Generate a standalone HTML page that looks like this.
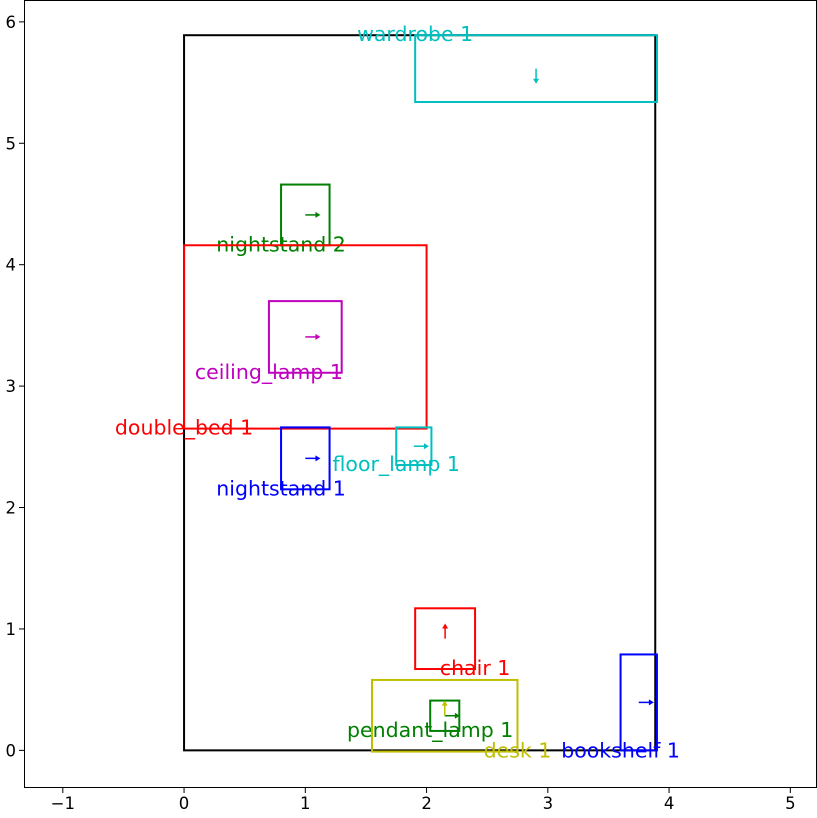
<!DOCTYPE html>
<html><head><meta charset="utf-8"><style>
body{margin:0;background:#fff}
svg{display:block;font-family:"DejaVu Sans","Liberation Sans",sans-serif}
</style></head><body>
<svg id="chart" width="817" height="818" viewBox="0 0 817 818"></svg>
<script>
const names=["room","wardrobe 1","nightstand 2","double_bed 1","ceiling_lamp 1","floor_lamp 1","nightstand 1","chair 1","pendant_lamp 1","desk 1","bookshelf 1"];
const colors=["#000000","#00bfbf","#008000","#ff0000","#bf00bf","#00bfbf","#0000ff","#ff0000","#008000","#bfbf00","#0000ff"];
const xmins=[0,1.906,0.80,0,0.70,1.75,0.80,1.906,2.03,1.55,3.6];
const ymins=[0,5.34,4.16,2.65,3.11,2.35,2.15,0.67,0.16,-0.01,0];
const xmaxs=[3.886,3.9,1.20,2.0,1.30,2.04,1.20,2.40,2.27,2.75,3.9];
const ymaxs=[5.89,5.89,4.66,4.16,3.70,2.66,2.66,1.17,0.41,0.58,0.79];
const labelX=[null,1.906,0.80,0,0.70,1.75,0.80,2.40,2.03,2.75,3.6];
const labelY=[null,5.89,4.16,2.65,3.11,2.35,2.15,0.67,0.16,-0.01,-0.01];
const arrowDx=[0,0,1,0,1,1,1,0,1,0,1];
const arrowDy=[0,-1,0,0,0,0,0,1,0,1,0];
const xTicks=[-1,0,1,2,3,4,5];
const yTicks=[0,1,2,3,4,5,6];
const X0=-1.32,X1=5.22,Y0=-0.31,Y1=6.18;
const L=24,R=817,T=0,B=788;
const sx=v=>L+(v-X0)/(X1-X0)*(R-L);
const sy=v=>B-(v-Y0)/(Y1-Y0)*(B-T);
const svg=document.getElementById('chart');
const NS='http://www.w3.org/2000/svg';
function mk(tag,attrs,parent){const e=document.createElementNS(NS,tag);for(const k in attrs)e.setAttribute(k,attrs[k]);(parent||svg).appendChild(e);return e;}
for(let i=0;i<names.length;i++){
  const g=mk('g',{});
  
  
  const r=mk('rect',{x:sx(xmins[i]),y:sy(ymaxs[i]),width:sx(xmaxs[i])-sx(xmins[i]),height:sy(ymins[i])-sy(ymaxs[i]),fill:'none',stroke:colors[i],'stroke-width':2},g);
  
  
  if(i>0){
    const cx=(xmins[i]+xmaxs[i])/2,cy=(ymins[i]+ymaxs[i])/2;
    const x1=sx(cx),y1=sy(cy),x2=sx(cx+arrowDx[i]*0.1),y2=sy(cy+arrowDy[i]*0.1);
    const a=mk('line',{x1:x1,y1:y1,x2:x2,y2:y2,stroke:colors[i],'stroke-width':1.5},g);
    
    
    const ux=Math.sign(x2-x1),uy=Math.sign(y2-y1);
    const hx=x2+ux*3,hy=y2+uy*3;
    const px=-uy,py=ux;
    const h=mk('path',{d:`M${hx},${hy} L${x2-ux*2+px*3},${y2-uy*2+py*3} L${x2-ux*2-px*3},${y2-uy*2-py*3} Z`,fill:colors[i]},g);
    
    
    const t=mk('text',{x:sx(labelX[i]),y:sy(labelY[i]),fill:colors[i],'font-size':20.5,'text-anchor':'middle','dominant-baseline':'middle'},g);
    t.textContent=names[i];
    
    
  }
}
const frame=mk('rect',{x:L+0.5,y:T+0.5,width:R-L-1,height:B-T-1,fill:'none',stroke:'#000','stroke-width':1});


xTicks.forEach(v=>{
  const x=sx(v);
  mk('line',{x1:x,y1:B,x2:x,y2:B+5,stroke:'#000'});
  const t=mk('text',{x:x,y:B+21,'font-size':16.5,'text-anchor':'middle'});
  t.textContent=v<0?'\u2212'+(-v):v;
  
  
});
yTicks.forEach(v=>{
  const y=sy(v);
  mk('line',{x1:L-5,y1:y,x2:L,y2:y,stroke:'#000'});
  const t=mk('text',{x:L-8,y:y+6,'font-size':16.5,'text-anchor':'end'});
  t.textContent=v;
  
  
});
</script>
</body></html>
